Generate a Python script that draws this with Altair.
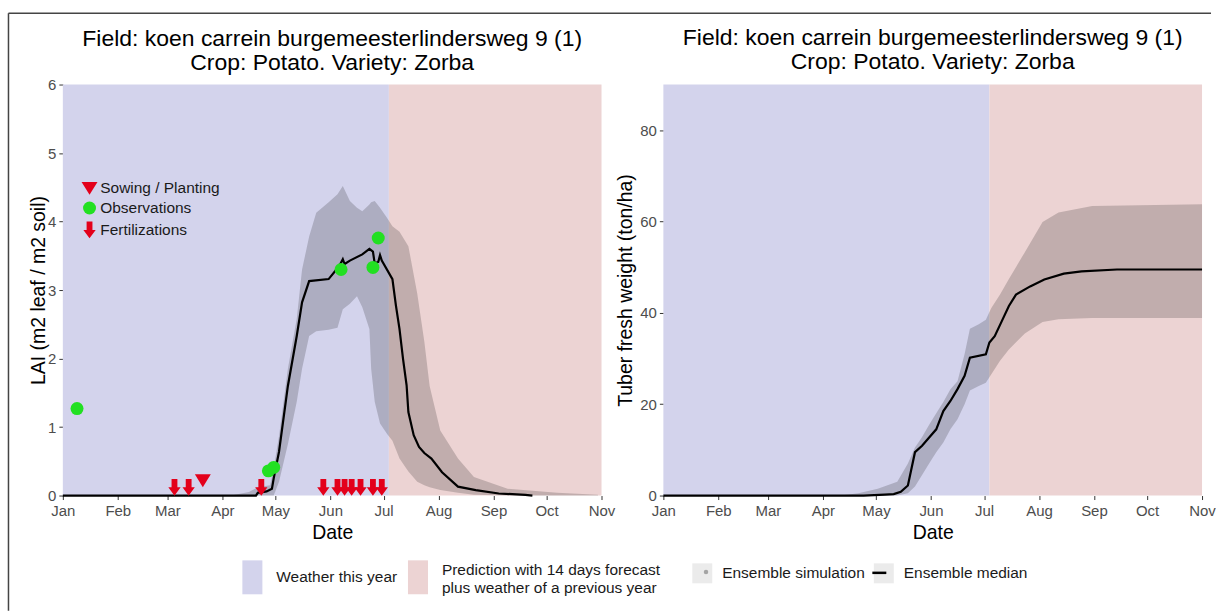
import altair as alt
import pandas as pd

# ---------------- data ----------------
TITLE_LINES = ["Field: koen carrein burgemeesterlindersweg 9 (1)", "Crop: Potato. Variety: Zorba"]
MONTHS = [1, 2, 3, 4, 5, 6, 7, 8, 9, 10, 11]

period_names = ["Weather this year", "Prediction with 14 days forecast|plus weather of a previous year"]
period_start = ["2019-01-01", "2019-07-04"]
period_end = ["2019-07-04", "2019-11-01"]
period_colors = ["#d3d3ec", "#ecd3d3"]

ensemble_series = ["Ensemble simulation", "Ensemble median"]

# LAI ensemble median
lai_med_dates = ["2019-01-01", "2019-04-20", "2019-04-21", "2019-04-26", "2019-04-29", "2019-04-30",
                 "2019-05-03", "2019-05-08", "2019-05-13", "2019-05-16", "2019-05-20", "2019-05-31",
                 "2019-06-06", "2019-06-08", "2019-06-09", "2019-06-12", "2019-06-19", "2019-06-23",
                 "2019-06-25", "2019-06-26", "2019-06-28", "2019-06-29", "2019-06-30", "2019-07-06",
                 "2019-07-08", "2019-07-10", "2019-07-12", "2019-07-14", "2019-07-15", "2019-07-18",
                 "2019-07-21", "2019-07-24", "2019-07-28", "2019-08-03", "2019-08-12", "2019-08-22",
                 "2019-09-04", "2019-09-19", "2019-09-23"]
lai_med = [0.0, 0.0, 0.04, 0.06, 0.10, 0.25,
           0.64, 1.60, 2.33, 2.82, 3.13, 3.16,
           3.35, 3.45, 3.38, 3.43, 3.52, 3.60,
           3.56, 3.39, 3.41, 3.51, 3.43, 3.16,
           2.77, 2.43, 1.99, 1.61, 1.22, 0.88,
           0.71, 0.62, 0.54, 0.34, 0.13, 0.08,
           0.03, 0.01, 0.0]

# LAI ensemble spread (envelope of the simulation points)
lai_band_dates = ["2019-04-06", "2019-04-16", "2019-04-21", "2019-04-28", "2019-04-30", "2019-05-03",
                  "2019-05-08", "2019-05-13", "2019-05-16", "2019-05-20", "2019-05-24", "2019-05-31",
                  "2019-06-05", "2019-06-08", "2019-06-12", "2019-06-16", "2019-06-19", "2019-06-23",
                  "2019-06-24", "2019-06-26", "2019-06-29", "2019-07-03", "2019-07-06", "2019-07-10",
                  "2019-07-15", "2019-07-20", "2019-07-24", "2019-07-27", "2019-08-02", "2019-08-12",
                  "2019-08-21", "2019-09-09", "2019-10-07", "2019-10-30"]
lai_band_high = [0.0, 0.05, 0.12, 0.15, 0.40, 0.87,
                 1.85, 2.58, 3.30, 3.78, 4.13, 4.28,
                 4.40, 4.52, 4.30, 4.20, 4.15, 4.25,
                 4.28, 4.30, 4.20, 4.05, 3.93, 3.85,
                 3.64, 2.95, 2.25, 1.60, 0.95, 0.54,
                 0.27, 0.10, 0.04, 0.01]
lai_band_low = [0.0, 0.0, 0.0, 0.0, 0.0, 0.20,
                0.75, 1.37, 1.85, 2.33, 2.40, 2.42,
                2.45, 2.72, 2.80, 2.91, 2.75, 2.43,
                1.85, 1.37, 1.05, 0.90, 0.80, 0.54,
                0.35, 0.20, 0.15, 0.12, 0.08, 0.04,
                0.01, 0.0, 0.0, 0.0]

# Tuber fresh weight ensemble median
tub_med_dates = ["2019-01-01", "2019-04-24", "2019-05-06", "2019-05-11", "2019-05-15", "2019-05-19",
                 "2019-05-23", "2019-05-27", "2019-05-31", "2019-06-04", "2019-06-08", "2019-06-12",
                 "2019-06-16", "2019-06-20", "2019-06-23", "2019-07-02", "2019-07-04", "2019-07-07",
                 "2019-07-11", "2019-07-15", "2019-07-19", "2019-07-27", "2019-08-04", "2019-08-15",
                 "2019-08-25", "2019-09-14", "2019-11-01"]
tub_med = [0.0, 0.0, 0.2, 0.3, 0.8, 2.2,
           9.5, 10.9, 12.7, 14.5, 18.5, 20.7,
           23.3, 26.2, 30.2, 30.9, 33.5, 34.9,
           38.2, 41.5, 44.0, 45.8, 47.3, 48.6,
           49.1, 49.5, 49.5]

tub_band_dates = ["2019-04-11", "2019-04-21", "2019-05-02", "2019-05-13", "2019-05-19", "2019-05-23",
                  "2019-05-27", "2019-05-31", "2019-06-04", "2019-06-08", "2019-06-12", "2019-06-16",
                  "2019-06-20", "2019-06-23", "2019-06-28", "2019-07-02", "2019-07-05", "2019-07-10",
                  "2019-07-15", "2019-07-24", "2019-08-03", "2019-08-12", "2019-08-31", "2019-11-01"]
tub_band_high = [0.0, 0.5, 1.5, 3.0, 7.0, 10.5,
                 12.8, 15.5, 18.0, 20.5, 23.3, 25.0,
                 31.0, 36.5, 37.5, 38.5, 41.0, 44.0,
                 47.4, 53.3, 59.9, 62.0, 63.4, 63.8]
tub_band_low = [0.0, 0.0, 0.0, 0.0, 0.5, 2.0,
                4.5, 7.0, 9.5, 11.6, 14.5, 16.7,
                20.0, 23.0, 24.0, 24.7, 26.5, 29.5,
                32.0, 35.5, 38.0, 38.6, 38.9, 38.9]

event_types = ["Sowing / Planting", "Observations", "Fertilizations"]
event_colors = ["#e3001b", "#22e022", "#e3001b"]
ev_type = ["Sowing / Planting",
           "Observations", "Observations", "Observations", "Observations", "Observations", "Observations",
           "Fertilizations", "Fertilizations", "Fertilizations", "Fertilizations", "Fertilizations",
           "Fertilizations", "Fertilizations", "Fertilizations", "Fertilizations", "Fertilizations"]
ev_dates = ["2019-03-21",
            "2019-01-09", "2019-04-27", "2019-04-30", "2019-06-07", "2019-06-25", "2019-06-28",
            "2019-03-05", "2019-03-13", "2019-04-23", "2019-05-28", "2019-06-05",
            "2019-06-09", "2019-06-13", "2019-06-18", "2019-06-25", "2019-06-30"]
ev_value = [0.22,
            1.27, 0.36, 0.41, 3.30, 3.33, 3.76,
            0.12, 0.12, 0.12, 0.12, 0.12,
            0.12, 0.12, 0.12, 0.12, 0.12]

# ---------------- tables ----------------
bg_df = pd.DataFrame({"period": period_names, "start": period_start, "end": period_end})
lai_med_df = pd.DataFrame({"date": lai_med_dates, "v": lai_med, "series": ensemble_series[1]})
lai_band_df = pd.DataFrame({"date": lai_band_dates, "lo": lai_band_low, "hi": lai_band_high,
                            "series": ensemble_series[0]})
tub_med_df = pd.DataFrame({"date": tub_med_dates, "v": tub_med, "series": ensemble_series[1]})
tub_band_df = pd.DataFrame({"date": tub_band_dates, "lo": tub_band_low, "hi": tub_band_high,
                            "series": ensemble_series[0]})
ev_df = pd.DataFrame({"date": ev_dates, "v": ev_value, "type": ev_type})
keys_df = pd.DataFrame({"k": ensemble_series})
frame_df = pd.DataFrame({"k": [0]})

FONT = "Liberation Sans"
W, H = 540, 412
LEG_FS = 15.5

def dt(m):
    return alt.DateTime(year=2019, month=m, date=1, utc=True)

def xenc(field):
    return alt.X(f"{field}:T", title="Date",
                 scale=alt.Scale(type="utc", domain=[dt(1), dt(11)], nice=False),
                 axis=alt.Axis(values=[dt(m) for m in MONTHS], format="%b", labelFontSize=15,
                               labelFlush=False, labelPadding=4, titlePadding=5, titleFontSize=19.5))

def yscale(top):
    return alt.Scale(domain=[0, top], nice=False, zero=True)

ARROW = "M-0.45,-1.3L0.45,-1.3L0.45,0L0.95,0L0,1.3L-0.95,0L-0.45,0Z"
TRI = "M-1.23,-0.95L1.23,-0.95L0,1.05Z"
RECT_KEY = "M-0.59,-1L0.59,-1L0.59,1L-0.59,1Z"
RECT_KEY_LOW = "M-0.59,-0.59L0.59,-0.59L0.59,1.41L-0.59,1.41Z"


def period_legend(x, y, path):
    return alt.Legend(title=None, orient="none", legendX=x, legendY=y, symbolType=path,
                      symbolSize=1156, symbolOpacity=1, labelFontSize=LEG_FS, labelOffset=6,
                      padding=0, labelExpr="split(datum.label, '|')")


def panel(band_df, med_df, ytop, yvals, ytitle, with_legend, ytitle_pad, title_offset):
    yax = alt.Axis(values=yvals, labelFontSize=15, titleFontSize=19.5, titlePadding=ytitle_pad,
                   labelPadding=3)
    bgs = []
    for i, (lx, ly, path) in enumerate([(172, 476, RECT_KEY), (338, 469, RECT_KEY_LOW)]):
        bgs.append(alt.Chart(bg_df.iloc[[i]]).mark_rect().encode(
            x=xenc("start"), x2="end:T",
            y=alt.datum(0, scale=yscale(ytop), axis=yax, title=ytitle), y2=alt.datum(ytop),
            color=alt.Color("period:N",
                            scale=alt.Scale(domain=[period_names[i]], range=[period_colors[i]]),
                            legend=period_legend(lx, ly, path) if with_legend else None)))
    band = alt.Chart(band_df).mark_area(opacity=0.18, interpolate="linear").encode(
        x=xenc("date"),
        y=alt.Y("lo:Q", scale=yscale(ytop), title=ytitle, axis=yax), y2="hi:Q",
        color=alt.Color("series:N", scale=alt.Scale(domain=[ensemble_series[0]], range=["black"]),
                        legend=alt.Legend(title=None, orient="none", legendX=637, legendY=481,
                                          symbolType="circle", symbolSize=20, symbolOpacity=0.3,
                                          labelOffset=17, padding=0, labelFontSize=LEG_FS,
                                          labelExpr="''")
                        if with_legend else None))
    med = alt.Chart(med_df).mark_line(strokeWidth=2.2).encode(
        x=xenc("date"),
        y=alt.Y("v:Q", scale=yscale(ytop), title=ytitle, axis=yax),
        color=alt.Color("series:N", scale=alt.Scale(domain=[ensemble_series[1]], range=["black"]),
                        legend=alt.Legend(title=None, orient="none", legendX=810, legendY=481,
                                          symbolType="stroke", symbolSize=196, symbolStrokeWidth=2.5,
                                          labelOffset=17, padding=0, labelFontSize=LEG_FS,
                                          labelExpr="''")
                        if with_legend else None))
    layers = bgs + [band, med]
    if with_legend:
        # grey key backgrounds of the ensemble legend (drawn underneath the dot / line keys)
        keys = alt.Chart(keys_df).mark_square(opacity=0).encode(
            fill=alt.Fill("k:N", scale=alt.Scale(domain=ensemble_series, range=["#ebebeb", "#ebebeb"]),
                          legend=alt.Legend(title=None, orient="none", legendX=630, legendY=479,
                                            direction="horizontal", symbolType="square", symbolSize=400,
                                            symbolOpacity=1, labelOffset=9, columnPadding=7, padding=0,
                                            labelFontSize=LEG_FS)))
        ev_legend = alt.Legend(title=None, orient="none", legendX=19, legendY=96, symbolSize=169,
                               symbolOpacity=1, rowPadding=0, labelOffset=3, padding=0,
                               labelFontSize=LEG_FS)
        ev = alt.Chart(ev_df).mark_point(filled=True, size=169, opacity=1).encode(
            x=xenc("date"),
            y=alt.Y("v:Q", scale=yscale(ytop), title=ytitle, axis=yax),
            shape=alt.Shape("type:N", scale=alt.Scale(domain=event_types, range=[TRI, "circle", ARROW]),
                            legend=ev_legend),
            color=alt.Color("type:N", scale=alt.Scale(domain=event_types, range=event_colors),
                            legend=ev_legend))
        layers = [keys] + layers + [ev]
    return alt.layer(*layers).resolve_scale(color="independent", shape="independent",
                                            fill="independent").properties(
        width=W, height=H,
        title=alt.Title(TITLE_LINES, fontSize=23, font=FONT, fontWeight="normal", color="black",
                        anchor="middle", offset=title_offset, lineHeight=23.5))


left = panel(lai_band_df, lai_med_df, 6, [0, 1, 2, 3, 4, 5, 6], "LAI (m2 leaf / m2 soil)", True, -1, 3)
right = panel(tub_band_df, tub_med_df, 90, [0, 20, 40, 60, 80], "Tuber fresh weight (ton/ha)", False, 4, 11)

# outer frame of the figure (left and top edges), in a one-pixel-wide view of its own
vline = alt.Chart(frame_df).mark_rule(color="#444444", strokeWidth=1.5).encode(
    x=alt.value(8.5), y=alt.value(-71.5), y2=alt.value(527.5))
hline = alt.Chart(frame_df).mark_rule(color="#444444", strokeWidth=1.5).encode(
    x=alt.value(8.5), x2=alt.value(1214), y=alt.value(-71.5))
frame = alt.layer(vline, hline).properties(width=1, height=H)

chart = alt.hconcat(frame, left, right, spacing=62, bounds="flush").resolve_scale(
    color="independent", shape="independent", fill="independent", x="independent", y="independent"
).properties(
    padding={"left": 0, "top": 11, "right": 0, "bottom": 0}
).configure_view(stroke=None).configure_axis(
    grid=False, domain=False, tickColor="#333333", tickSize=4, tickWidth=1,
    labelColor="#4d4d4d", labelFont=FONT, titleFont=FONT, titleColor="black",
    titleFontWeight="normal"
).configure_legend(labelFont=FONT, labelColor="#1a1a1a", labelLimit=400)

chart.save("out.html", embed_options={"renderer": "svg", "actions": False})
